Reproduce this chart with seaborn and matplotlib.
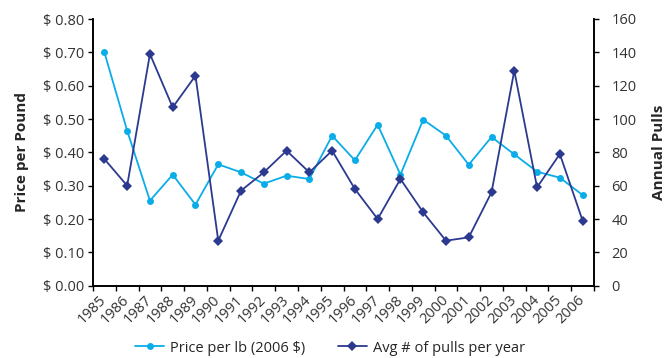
import matplotlib
matplotlib.use("Agg")
import matplotlib.pyplot as plt
import seaborn as sns
import pandas as pd
import numpy as np

years = [str(y) for y in range(1985, 2007)]
price_per_lb = [0.70, 0.465, 0.255, 0.333, 0.243, 0.364, 0.340, 0.306, 0.330, 0.320,
                0.450, 0.376, 0.483, 0.333, 0.498, 0.450, 0.363, 0.446, 0.394, 0.342,
                0.324, 0.272]
avg_pulls = [76, 60, 139, 107, 126, 27, 57, 68, 81, 68,
             81, 58, 40, 64, 44, 27, 29, 56, 129, 59,
             79, 39]

price_label = "Price per lb (2006 $)"
pulls_label = "Avg # of pulls per year"
light_blue = "#0AADE8"
dark_blue = "#2B3A8F"

sns.set_theme(style="white")
plt.rcParams["font.family"] = ["Open Sans", "DejaVu Sans"]

df = pd.DataFrame({"idx": np.arange(len(years)), "year": years,
                   "price": price_per_lb, "pulls": avg_pulls})

fig = plt.figure(figsize=(6.72, 3.58), dpi=100)
ax = fig.add_axes([93 / 672, 1 - 285.7 / 358, (594 - 93) / 672, (285.7 - 19) / 358])
ax2 = ax.twinx()

sns.lineplot(data=df, x="idx", y="price", ax=ax, color=light_blue, marker="o",
             markersize=5, markeredgewidth=0, linewidth=1.3, label=price_label, legend=False)
sns.lineplot(data=df, x="idx", y="pulls", ax=ax2, color=dark_blue, marker="D",
             markersize=4.6, markeredgewidth=0, linewidth=1.3, label=pulls_label, legend=False)

n = len(years)
ax.set_xlim(-0.5, n - 0.5)
ax.set_ylim(0, 0.8)
ax2.set_ylim(0, 160)

ax.set_yticks(np.arange(0, 0.81, 0.1))
ax.set_yticklabels([f"$ {v:.2f}" for v in np.arange(0, 0.81, 0.1)])
ax2.set_yticks(range(0, 161, 20))

# category boundaries carry the tick marks, labels sit at category centres
ax.set_xticks(np.arange(n))
ax.set_xticklabels(years, rotation=45, ha="right", va="center", rotation_mode="anchor")
ax.set_xticks(np.arange(-0.5, n, 1.0), minor=True)
ax.tick_params(axis="x", which="major", length=0, pad=9, labelsize=10.5, labelcolor="#333333")
ax.tick_params(axis="x", which="minor", length=3.5, width=1, color="black", direction="out", bottom=True)
ax.tick_params(axis="y", length=3.5, width=1, color="black", direction="out", left=True,
               labelsize=10.5, labelcolor="#333333", pad=3)
ax2.tick_params(axis="y", which="major", length=3.5, width=1, color="black", direction="out",
                right=True, labelright=True, labelsize=10.5, labelcolor="#333333", pad=9)

ax.set_xlabel("")
ax.set_ylabel("Price per Pound", fontsize=11, fontweight="bold", labelpad=10)
ax2.set_ylabel("Annual Pulls", fontsize=11, fontweight="bold", labelpad=11)

for a in (ax, ax2):
    a.spines["top"].set_visible(False)
    for s in ("left", "right", "bottom"):
        a.spines[s].set_color("black")
        a.spines[s].set_linewidth(1.2)
    a.grid(False)

h1, l1 = ax.get_legend_handles_labels()
h2, l2 = ax2.get_legend_handles_labels()
fig.legend(h1 + h2, l1 + l2, loc="center", bbox_to_anchor=(330 / 672, 1 - 348 / 358),
           ncol=2, frameon=False, handlelength=2.0, columnspacing=2.2,
           handletextpad=0.4, prop={"size": 10.5})

fig.savefig("out.png", dpi=100)
